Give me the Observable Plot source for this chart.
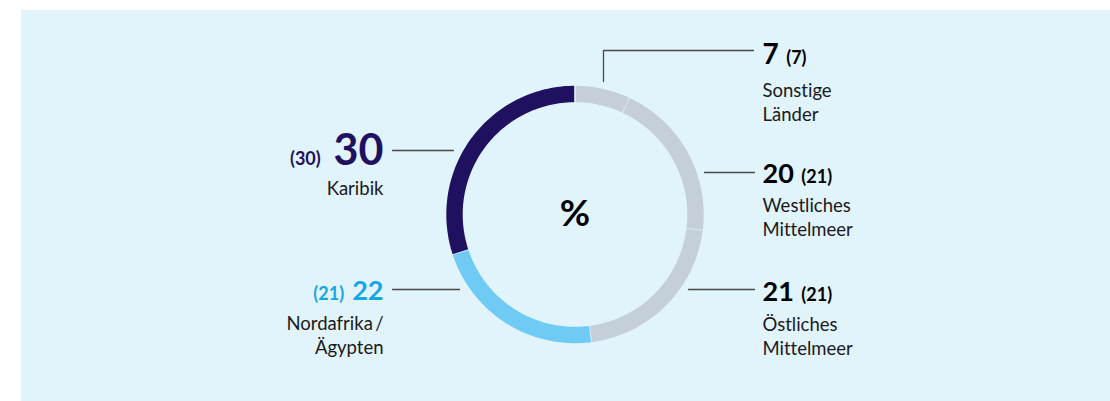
<!DOCTYPE html>
<html>
<head>
<meta charset="utf-8">
<script src="https://cdn.jsdelivr.net/npm/d3@7"></script>
<script src="https://cdn.jsdelivr.net/npm/@observablehq/plot@0.6"></script>
<style>
  html, body { margin: 0; padding: 0; background: #ffffff; }
  #wrap { position: relative; width: 1110px; height: 401px; overflow: hidden; font-family: Lato, "Open Sans", sans-serif; }
  #panel { position: absolute; left: 21px; top: 10px; right: 0; bottom: 0; background: #e1f3fb; }
  #chart { position: absolute; left: 0; top: 0; }
  #chart text { font-variant-ligatures: none; font-feature-settings: "liga" 0, "dlig" 0; }
</style>
</head>
<body>
<div id="wrap"><div id="panel"></div><div id="chart"></div></div>
<script>
// ---- data ----
const regions = ["Sonstige Länder", "Westliches Mittelmeer", "Östliches Mittelmeer", "Nordafrika / Ägypten", "Karibik"];
const labelText = ["Sonstige\nLänder", "Westliches\nMittelmeer", "Östliches\nMittelmeer", "Nordafrika\u2009/\nÄgypten", "Karibik"];
const shares = [7, 20, 21, 22, 30];
const prevShares = [7, 21, 21, 21, 30];
const centerLabel = "%";

// ---- styles ----
const segColors = ["#c5cfd9", "#c5cfd9", "#c5cfd9", "#6fcbf3", "#1f1160"];
const numColors = ["#000000", "#000000", "#000000", "#14a7e0", "#1f1160"];
const bg = "#e1f3fb";
const font = "Lato";

// ---- layout (pixels) ----
const cx = 574.5, cy = 214, rOuter = 129.5, rInner = 111.5;
const layout = [
  {side: "right", numX: 762, numBase: 63,  textBase: 93,  numSize: 28, line: [[603, 81], [603, 50], [753, 50]]},
  {side: "right", numX: 762, numBase: 182, textBase: 208, numSize: 27, line: [[704, 172], [754, 172]]},
  {side: "right", numX: 762, numBase: 300, textBase: 327, numSize: 27, line: [[688, 289], [754, 289]]},
  {side: "left",  numX: 383, numBase: 299, textBase: 326, numSize: 27, line: [[392, 289], [459, 289]]},
  {side: "left",  numX: 383, numBase: 164, textBase: 191, numSize: 43, line: [[392, 150], [453, 150]]}
];
const labelSize = 18.5, prevSize = 18, lineHeightPx = 24;

// ---- geometry from data ----
const data = regions.map((r, i) => ({region: r, value: shares[i], prev: prevShares[i], i}));
const arcs = d3.pie().sort(null).value(d => d.value)(data);
function pt(a, r) { return {x: cx + r * Math.sin(a), y: cy - r * Math.cos(a)}; }
const segments = arcs.map(a => {
  const n = 80, pts = [];
  for (let k = 0; k <= n; k++) pts.push(pt(a.startAngle + (a.endAngle - a.startAngle) * k / n, rOuter));
  for (let k = n; k >= 0; k--) pts.push(pt(a.startAngle + (a.endAngle - a.startAngle) * k / n, rInner));
  return {i: a.data.i, pts};
});

const ctx = document.createElement("canvas").getContext("2d");
function tw(text, size, weight) { ctx.font = `${weight} ${size}px ${font}`; return ctx.measureText(text).width; }

const numMarks = [], prevMarks = [], labelsL = [], labelsR = [];
data.forEach((d, i) => {
  const L = layout[i];
  const numStr = String(d.value), prevStr = `(${d.prev})`;
  const wNum = tw(numStr, L.numSize, 700);
  const gap = L.side === "right" ? 7.5 : L.numSize * 0.3;
  numMarks.push({x: L.numX, y: L.numBase - 0.71 * L.numSize, t: numStr, anchor: L.side === "right" ? "start" : "end", size: L.numSize, color: numColors[i]});
  prevMarks.push({x: L.side === "right" ? L.numX + wNum + gap : L.numX - wNum - gap, y: L.numBase - 0.71 * prevSize, t: prevStr, anchor: L.side === "right" ? "start" : "end", color: numColors[i]});
  (L.side === "right" ? labelsR : labelsL).push({x: L.numX, y: L.textBase - 0.71 * labelSize, t: labelText[i]});
});
const leaders = layout.flatMap((L, i) => L.line.map(([x, y]) => ({x, y, i})));

const marks = [];
segments.forEach(s => {
  marks.push(Plot.line(s.pts, {x: "x", y: "y", fill: segColors[s.i], stroke: bg, strokeWidth: 1.6, curve: "linear"}));
});
marks.push(Plot.line(leaders, {x: "x", y: "y", z: "i", stroke: "#4a4a4a", strokeWidth: 1.3}));
numMarks.forEach(m => marks.push(Plot.text([m], {x: "x", y: "y", text: "t", textAnchor: m.anchor, lineAnchor: "top", fontSize: m.size, fontWeight: 700, fill: m.color, fontFamily: font})));
prevMarks.forEach(m => marks.push(Plot.text([m], {x: "x", y: "y", text: "t", textAnchor: m.anchor, lineAnchor: "top", fontSize: prevSize, fontWeight: 700, fill: m.color, fontFamily: font})));
marks.push(Plot.text(labelsR, {x: "x", y: "y", text: "t", textAnchor: "start", lineAnchor: "top", fontSize: labelSize, lineHeight: lineHeightPx / labelSize, fill: "#1a1a1a", fontFamily: font}));
marks.push(Plot.text(labelsL, {x: "x", y: "y", text: "t", textAnchor: "end", lineAnchor: "top", fontSize: labelSize, lineHeight: lineHeightPx / labelSize, fill: "#1a1a1a", fontFamily: font}));
marks.push(Plot.text([{t: centerLabel}], {x: () => cx, y: () => cy, text: "t", fontSize: 37, fontWeight: 700, fill: "#000", fontFamily: font, lineAnchor: "middle"}));

const chart = Plot.plot({
  width: 1110, height: 401, margin: 0,
  x: {domain: [0, 1110], range: [0, 1110], axis: null},
  y: {domain: [0, 401], range: [0, 401], axis: null},
  style: {background: "transparent", fontFamily: font, overflow: "visible"},
  marks
});
document.getElementById("chart").appendChild(chart);
</script>
</body>
</html>
